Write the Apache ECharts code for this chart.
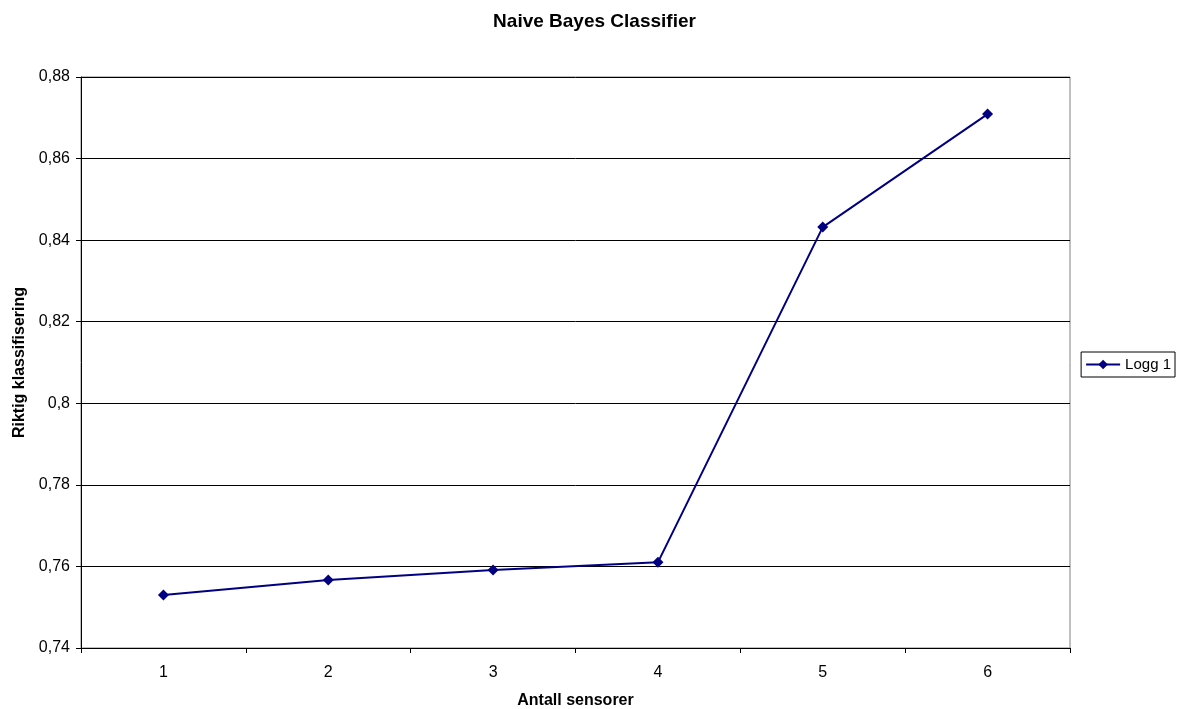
<!DOCTYPE html>
<html>
<head>
<meta charset="utf-8">
<script src="https://cdn.jsdelivr.net/npm/echarts@6/dist/echarts.min.js"></script>
<style>
  html, body { margin: 0; padding: 0; background: #fff; }
  #chart { width: 1189px; height: 709px; }
</style>
</head>
<body>
<div id="chart"></div>
<script>
// Number of sensors used by the classifier
const categories = ['1', '2', '3', '4', '5', '6'];
// Share of correctly classified samples, log 1
const logg1 = [0.753, 0.7567, 0.7591, 0.761, 0.8432, 0.8709];
const yTicks = { min: 0.74, max: 0.88, step: 0.02 };

const font = 'Liberation Sans, Arial, sans-serif';
const navy = '#000080';

const chart = echarts.init(document.getElementById('chart'), null, { renderer: 'canvas' });
chart.setOption({
  animation: false,
  backgroundColor: '#fff',
  title: {
    text: 'Naive Bayes Classifier',
    left: 'center',
    top: 7,
    textStyle: { fontFamily: font, fontSize: 19, fontWeight: 'bold', color: '#000' }
  },
  legend: {
    data: ['Logg 1'],
    right: 14,
    top: 352,
    orient: 'vertical',
    itemWidth: 34,
    itemHeight: 12,
    itemGap: 4,
    padding: [5, 4, 5, 4],
    borderColor: '#000',
    borderWidth: 1,
    textStyle: { fontFamily: font, fontSize: 15, color: '#000' }
  },
  grid: {
    left: 81, right: 119, top: 77, bottom: 61,
    show: true,
    borderColor: '#808080',
    borderWidth: 1,
    containLabel: false,
    outerBoundsMode: 'none'
  },
  xAxis: {
    type: 'category',
    data: categories,
    boundaryGap: true,
    name: 'Antall sensorer',
    nameLocation: 'middle',
    nameGap: 45,
    nameTextStyle: { fontFamily: font, fontSize: 16, fontWeight: 'bold', color: '#000' },
    axisLine: { lineStyle: { color: '#000', width: 1 } },
    axisTick: { show: true, length: 5, inside: false, lineStyle: { color: '#000' } },
    axisLabel: { fontFamily: font, fontSize: 16, color: '#000', margin: 17 },
    splitLine: { show: false }
  },
  yAxis: {
    type: 'value',
    min: yTicks.min,
    max: yTicks.max,
    interval: yTicks.step,
    name: 'Riktig klassifisering',
    nameLocation: 'middle',
    nameGap: 53,
    nameRotate: 90,
    nameTextStyle: { fontFamily: font, fontSize: 16, fontWeight: 'bold', color: '#000' },
    axisLine: { show: true, lineStyle: { color: '#000', width: 1 } },
    axisTick: { show: true, length: 5, lineStyle: { color: '#000' } },
    axisLabel: {
      fontFamily: font, fontSize: 16, color: '#000', margin: 11,
      formatter: v => {
        const s = String(+v.toFixed(2));
        return s.replace('.', ',');
      }
    },
    splitLine: { show: true, lineStyle: { color: '#000', width: 1 } }
  },
  series: [{
    name: 'Logg 1',
    type: 'line',
    data: logg1,
    symbol: 'diamond',
    symbolSize: 11,
    itemStyle: { color: navy },
    lineStyle: { color: navy, width: 2 }
  }]
});
</script>
</body>
</html>
